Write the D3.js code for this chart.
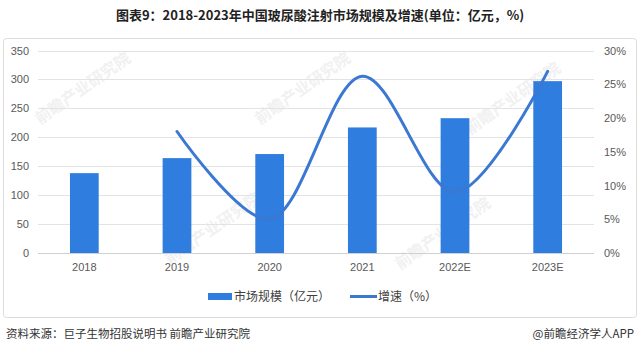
<!DOCTYPE html>
<html><head><meta charset="utf-8">
<script src="https://cdn.jsdelivr.net/npm/d3@7/dist/d3.min.js"></script>
<style>
html,body{margin:0;padding:0;background:#fff;}
svg{display:block;font-family:"Noto Sans CJK SC","Microsoft YaHei",sans-serif;}
</style></head>
<body><svg id="c" width="640" height="351"></svg>
<script>
const categories = ["2018","2019","2020","2021","2022E","2023E"];
const marketSize = [138, 164, 171, 217, 233, 297];
const growth = [null, 18.0, 5.0, 26.2, 9.0, 26.9];
const leftTicks = [0,50,100,150,200,250,300,350];
const rightTicks = [0,5,10,15,20,25,30];

const svg = d3.select("#c");
const m = {l:38, r:594, t:50.5, b:253};

svg.append("text").attr("x",320).attr("y",20).attr("text-anchor","middle")
  .attr("font-size",13).attr("font-weight","bold").attr("fill","#222")
  .text("图表9：2018-2023年中国玻尿酸注射市场规模及增速(单位：亿元，%)");

svg.append("rect").attr("x",3.5).attr("y",38.5).attr("width",633).attr("height",279)
  .attr("rx",3).attr("fill","none").attr("stroke","#dcdcdc");

// faint watermarks
const wm = svg.append("g").attr("fill","#f1f1f1").attr("font-size",16).attr("font-weight","bold");
[[40,125],[260,125],[470,135],[170,265],[400,270]].forEach(([x,y])=>{
  wm.append("text").attr("transform",`translate(${x},${y}) rotate(-35)`).text("前瞻产业研究院");
});

const x = d3.scaleBand().domain(categories).range([m.l,m.r]).paddingInner(0.69).paddingOuter(0.345);
const yL = d3.scaleLinear().domain([0,350]).range([m.b,m.t]);
const yR = d3.scaleLinear().domain([0,30]).range([m.b,m.t]);

const gridG = svg.append("g");
leftTicks.forEach(t=>{
  gridG.append("line").attr("x1",m.l).attr("x2",m.r).attr("y1",Math.round(yL(t))+0.5).attr("y2",Math.round(yL(t))+0.5)
    .attr("stroke", t===0?"#d0d0d0":"#e3e3e3").attr("stroke-width",1);
});

const axL = svg.append("g").attr("transform",`translate(${m.l},0)`)
  .call(d3.axisLeft(yL).tickValues(leftTicks).tickSize(0).tickPadding(9));
axL.select(".domain").remove();
axL.selectAll("text").attr("font-size",11).attr("fill","#595959");

const axR = svg.append("g").attr("transform",`translate(${m.r},0)`)
  .call(d3.axisRight(yR).tickValues(rightTicks).tickSize(0).tickPadding(10).tickFormat(d=>d+"%"));
axR.select(".domain").remove();
axR.selectAll("text").attr("font-size",11).attr("fill","#595959");

const axB = svg.append("g").attr("transform",`translate(0,${m.b})`)
  .call(d3.axisBottom(x).tickSize(0).tickPadding(10));
axB.select(".domain").remove();
axB.selectAll("text").attr("font-size",11).attr("fill","#595959");

svg.append("g").selectAll("rect").data(categories).join("rect")
  .attr("x",d=>x(d)).attr("width",x.bandwidth())
  .attr("y",(d,i)=>yL(marketSize[i])).attr("height",(d,i)=>m.b-yL(marketSize[i]))
  .attr("fill","#2e7ddf");

const pts = categories.map((c,i)=>({c,v:growth[i]})).filter(d=>d.v!==null);
svg.append("path").datum(pts)
  .attr("d", d3.line().x(d=>x(d.c)+x.bandwidth()/2).y(d=>yR(d.v)).curve(d3.curveCatmullRom.alpha(0.5)))
  .attr("fill","none").attr("stroke","#3b78d2").attr("stroke-width",3).attr("stroke-linecap","round");

// legend
const lg = svg.append("g").attr("font-size",12).attr("fill","#404040");
lg.append("rect").attr("x",208).attr("y",293).attr("width",24).attr("height",7).attr("fill","#2e7ddf");
lg.append("text").attr("x",234).attr("y",301).text("市场规模（亿元）");
lg.append("line").attr("x1",350).attr("x2",377).attr("y1",296.5).attr("y2",296.5).attr("stroke","#3b78d2").attr("stroke-width",3);
lg.append("text").attr("x",378).attr("y",301).text("增速（%）");

svg.append("text").attr("x",6).attr("y",338).attr("font-size",11.5).attr("fill","#333")
  .text("资料来源：巨子生物招股说明书 前瞻产业研究院");
svg.append("text").attr("x",634).attr("y",338).attr("text-anchor","end").attr("font-size",11.5).attr("fill","#333")
  .text("@前瞻经济学人APP");
</script></body></html>
